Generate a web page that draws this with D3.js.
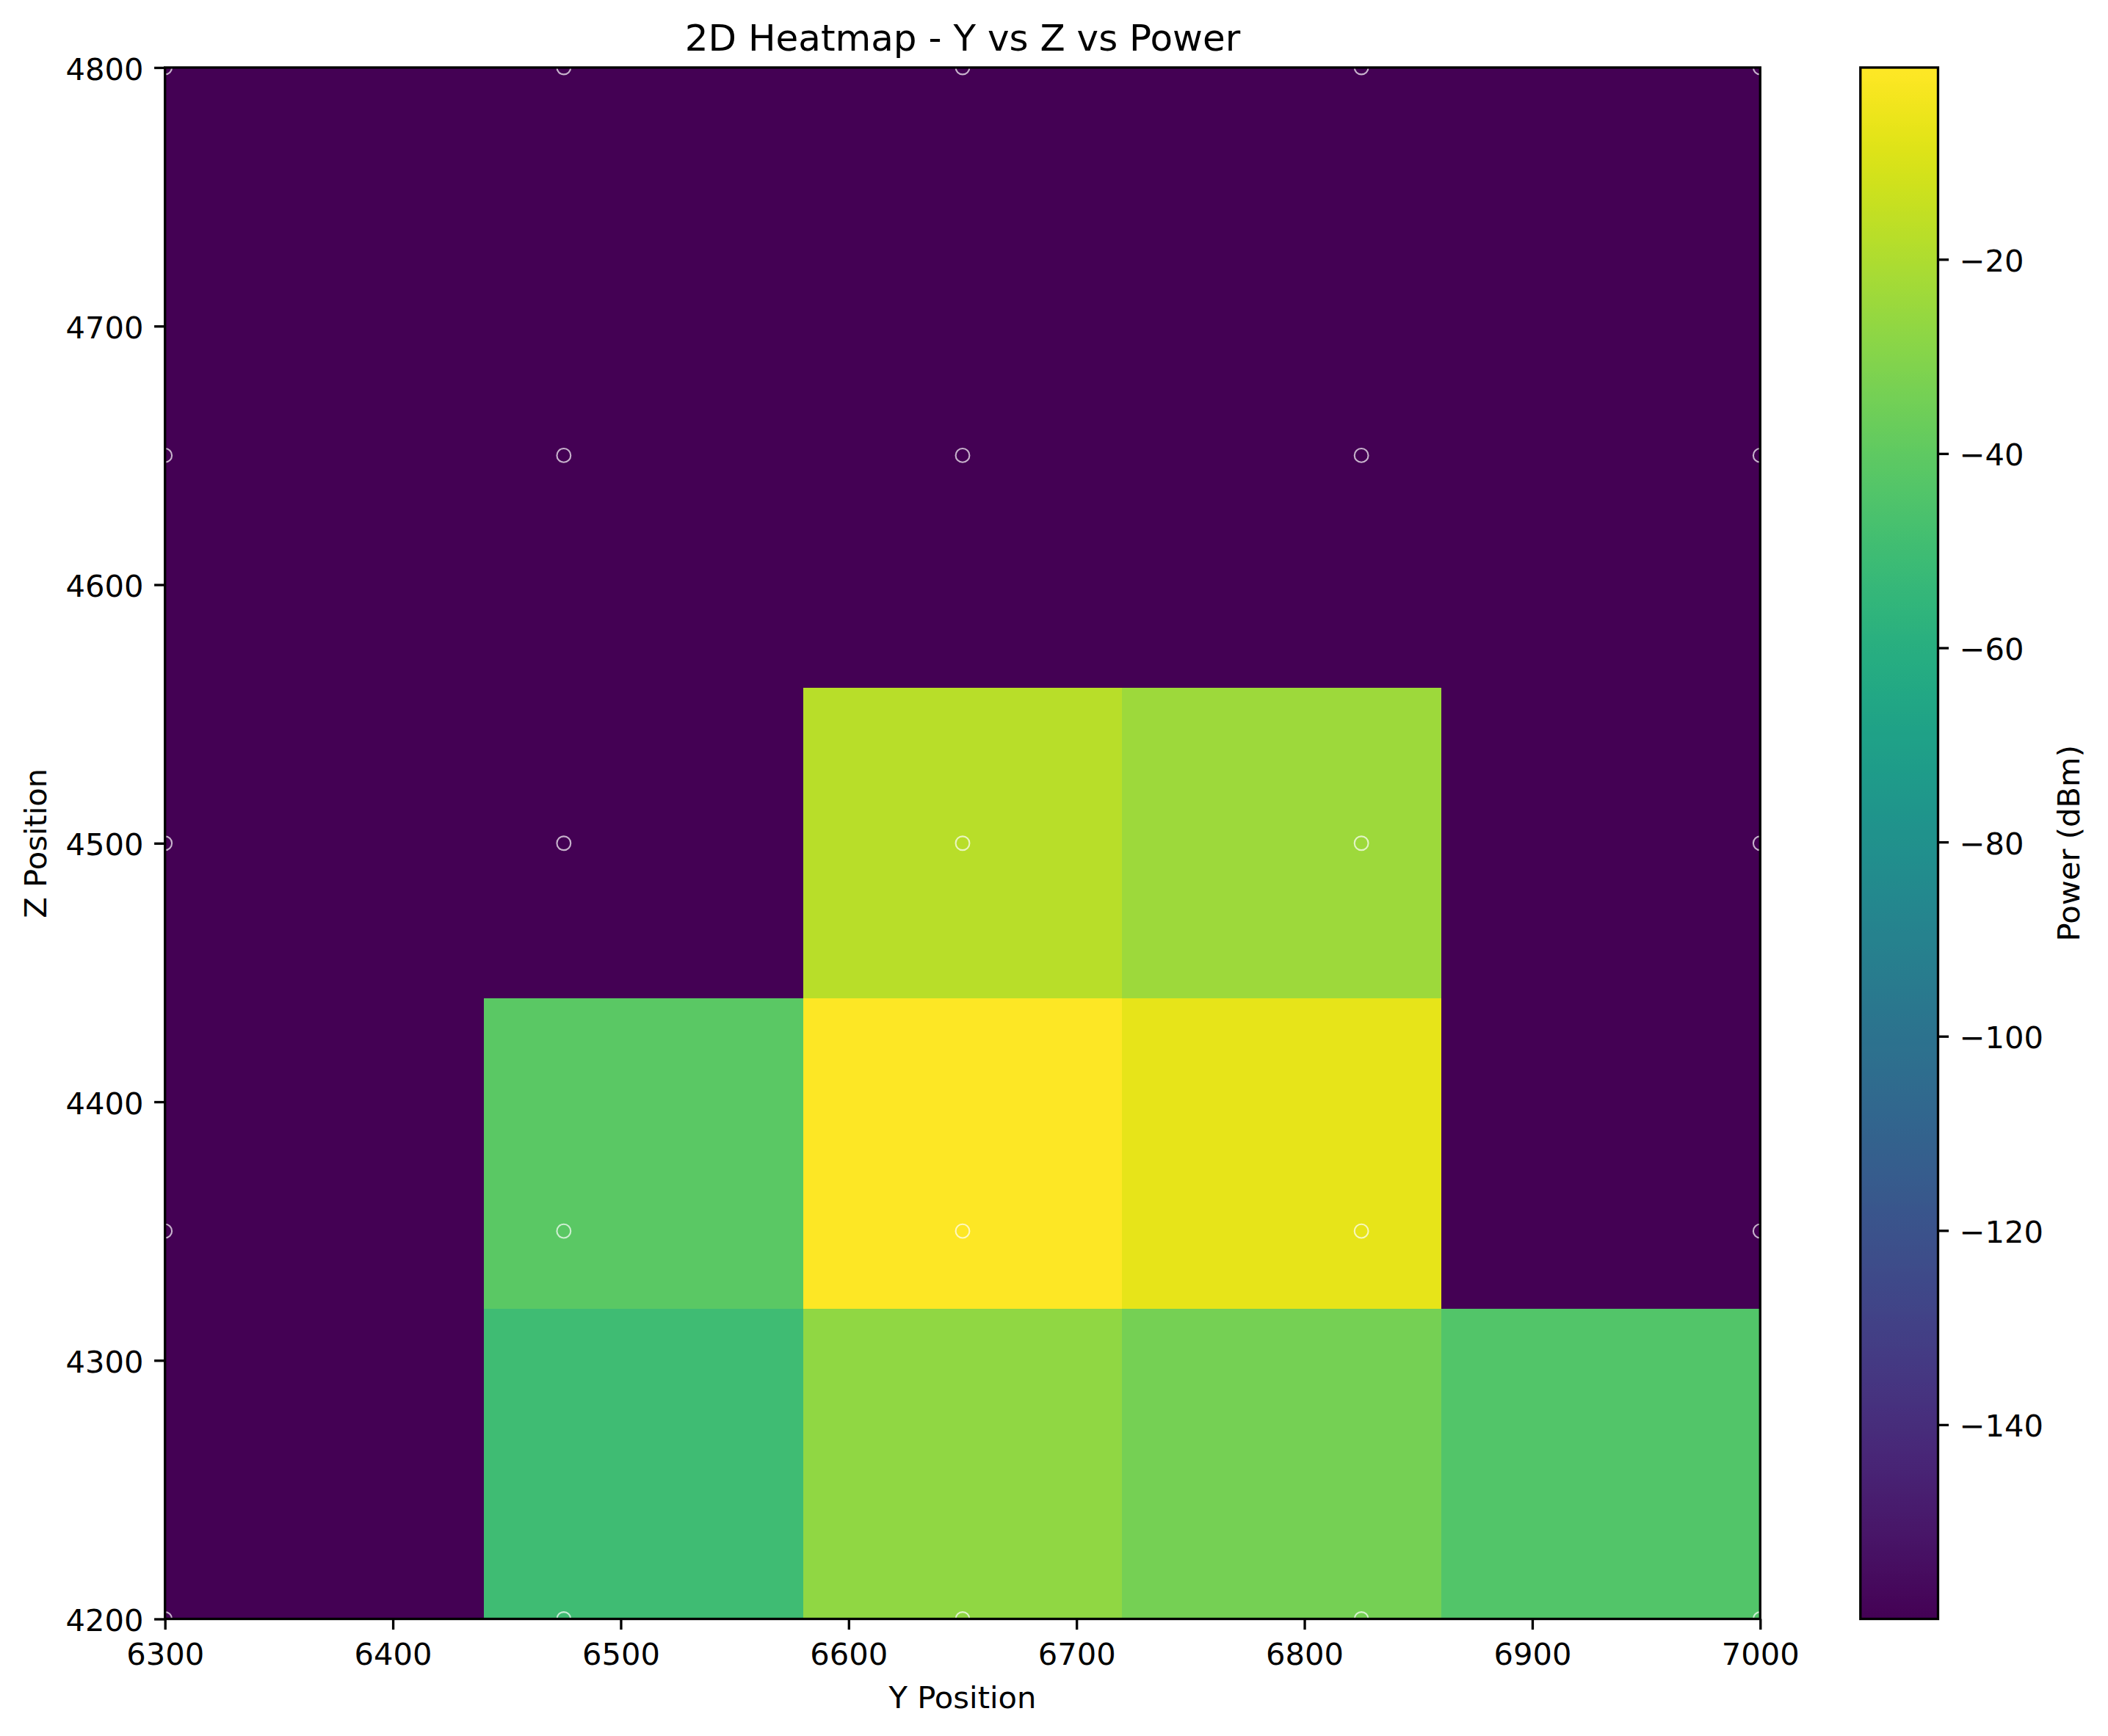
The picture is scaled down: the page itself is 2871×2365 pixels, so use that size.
<!DOCTYPE html>
<html><head><meta charset="utf-8"><script src="https://cdn.jsdelivr.net/npm/d3@7"></script>
<style>html,body{margin:0;padding:0;background:#fff}svg{display:block}text{font-family:"DejaVu Sans";fill:#000}</style>
</head><body><svg id="c" width="2871" height="2365"></svg>
<script>
const yEdges=[6300,6440,6580,6720,6860,7000];
const zEdges=[4200,4320,4440,4560,4680,4800];
const powerRows=[
 [-160,-50,-27,-33.5,-43.5],
 [-160,-41,-0.25,-6,-160],
 [-160,-160,-17.5,-23.5,-160],
 [-160,-160,-160,-160,-160],
 [-160,-160,-160,-160,-160]];
const sampleY=[6300,6475,6650,6825,7000];
const sampleZ=[4200,4350,4500,4650,4800];
const xTicks=[6300,6400,6500,6600,6700,6800,6900,7000];
const zTicks=[4200,4300,4400,4500,4600,4700,4800];
const powerTicks=[-20,-40,-60,-80,-100,-120,-140];
const powerMin=-160,powerMax=-0.25;

const L=224.7,R=2397.3,T=92,B=2205.5,CL=2533.8,CR=2639.5;
const FS=41.67,LW=3.33,TL=14.6,PAD=14.6;
const svg=d3.select("#c");
const x=d3.scaleLinear().domain([6300,7000]).range([L,R]);
const y=d3.scaleLinear().domain([4200,4800]).range([B,T]);
const cb=d3.scaleLinear().domain([powerMin,powerMax]).range([B,T]);
const col=v=>d3.interpolateViridis((v-powerMin)/(powerMax-powerMin));
svg.append("defs").append("clipPath").attr("id","ax").append("rect").attr("x",L).attr("y",T).attr("width",R-L).attr("height",B-T);

const cells=[];powerRows.forEach((r,j)=>r.forEach((v,i)=>cells.push({i,j,v})));
svg.append("g").attr("shape-rendering","crispEdges").selectAll("rect").data(cells).join("rect")
 .attr("x",d=>x(yEdges[d.i])).attr("width",d=>x(yEdges[d.i+1])-x(yEdges[d.i]))
 .attr("y",d=>y(zEdges[d.j+1])).attr("height",d=>y(zEdges[d.j])-y(zEdges[d.j+1]))
 .attr("fill",d=>col(d.v));

const pts=[];sampleZ.forEach(z=>sampleY.forEach(v=>pts.push({v,z})));
svg.append("g").attr("clip-path","url(#ax)").selectAll("circle").data(pts).join("circle")
 .attr("cx",d=>x(d.v)).attr("cy",d=>y(d.z)).attr("r",9.4)
 .attr("fill","none").attr("stroke","#fff").attr("stroke-opacity",0.7).attr("stroke-width",2.1);

function axisStyle(g,dy){
 g.select(".domain").remove();
 g.selectAll(".tick line").attr("stroke","#000").attr("stroke-width",LW);
 g.selectAll(".tick text").attr("font-size",FS).attr("font-family","DejaVu Sans").attr("fill","#000").attr("dy",dy);
}
const gx=svg.append("g").attr("transform",`translate(0,${B})`).call(d3.axisBottom(x).tickValues(xTicks).tickSize(TL).tickPadding(PAD).tickFormat(d3.format("d")));
axisStyle(gx,"32.8px");
const gy=svg.append("g").attr("transform",`translate(${L},0)`).call(d3.axisLeft(y).tickValues(zTicks).tickSize(TL).tickPadding(PAD).tickFormat(d3.format("d")));
axisStyle(gy,"16px");
svg.append("rect").attr("x",L).attr("y",T).attr("width",R-L).attr("height",B-T).attr("fill","none").attr("stroke","#000").attr("stroke-width",LW);

const gid="vir";
const grad=svg.select("defs").append("linearGradient").attr("id",gid).attr("x1",0).attr("x2",0).attr("y1",1).attr("y2",0);
d3.range(0,257).forEach(i=>grad.append("stop").attr("offset",i/256).attr("stop-color",d3.interpolateViridis(i/256)));
svg.append("rect").attr("x",CL).attr("y",T).attr("width",CR-CL).attr("height",B-T).attr("fill",`url(#${gid})`);
const minus=d=>String(d).replace("-","\u2212");
const gc=svg.append("g").attr("transform",`translate(${CR},0)`).call(d3.axisRight(cb).tickValues(powerTicks).tickSize(TL).tickPadding(PAD).tickFormat(minus));
axisStyle(gc,"16px");
svg.append("rect").attr("x",CL).attr("y",T).attr("width",CR-CL).attr("height",B-T).attr("fill","none").attr("stroke","#000").attr("stroke-width",LW);

svg.append("text").attr("x",(L+R)/2).attr("y",68.5).attr("text-anchor","middle").attr("font-size",50).text("2D Heatmap - Y vs Z vs Power");
svg.append("text").attr("x",(L+R)/2).attr("y",2327).attr("text-anchor","middle").attr("font-size",FS).text("Y Position");
svg.append("text").attr("transform",`translate(63,${(T+B)/2}) rotate(-90)`).attr("text-anchor","middle").attr("font-size",FS).text("Z Position");
svg.append("text").attr("transform",`translate(2832,${(T+B)/2}) rotate(-90)`).attr("text-anchor","middle").attr("font-size",FS).text("Power (dBm)");
</script></body></html>
